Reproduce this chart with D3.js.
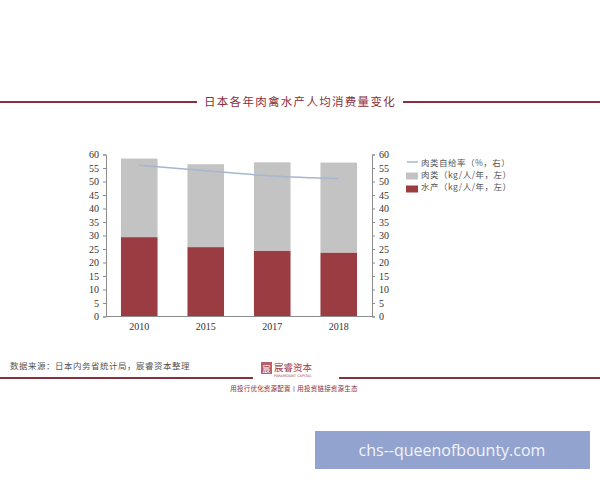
<!DOCTYPE html>
<html><head><meta charset="utf-8">
<script src="https://cdn.jsdelivr.net/npm/d3@7"></script>
<style>body{margin:0;background:#fff;}svg{display:block;}</style>
</head><body>
<svg id="c" width="600" height="480"></svg>
<script>
const years = ["2010","2015","2017","2018"];
const fish = [29.4, 25.7, 24.4, 23.7];
const meat = [29.1, 30.7, 32.7, 33.3];
const selfSuff = [56, 54, 52, 51];
const leftTicks = [0,5,10,15,20,25,30,35,40,45,50,55,60];
const rightTicks = [0,5,10,15,20,25,30,35,40,45,50,55,60];
const legendLabels = ["肉类自给率（%，右）","肉类（kg/人/年，左）","水产（kg/人/年，左）"];

const svg = d3.select("#c");
const serif = "'Liberation Serif','Times New Roman',serif";
const cjk = "'Noto Sans CJK SC',sans-serif";
const dark = "#8a2f3c";

// header
svg.append("line").attr("x1",0).attr("x2",197).attr("y1",102).attr("y2",102).attr("stroke",dark).attr("stroke-width",2);
svg.append("line").attr("x1",403).attr("x2",600).attr("y1",102).attr("y2",102).attr("stroke",dark).attr("stroke-width",2);
svg.append("text").attr("x",300).attr("y",106).attr("text-anchor","middle").attr("font-family",cjk)
  .attr("font-size",11.5).attr("fill",dark).attr("letter-spacing",1.3).text("日本各年肉禽水产人均消费量变化");

const x = d3.scaleBand().domain(years).range([106,372]).paddingInner(0.45).paddingOuter(0.225);
const yL = d3.scaleLinear().domain([0,60]).range([316.5,154.5]);
const yR = d3.scaleLinear().domain([0,60]).range([316.5,154.5]);

// bars
const g = svg.append("g");
g.selectAll(".fish").data(years).join("rect")
  .attr("x",d=>x(d)).attr("width",x.bandwidth())
  .attr("y",(d,i)=>yL(fish[i])).attr("height",(d,i)=>yL(0)-yL(fish[i])).attr("fill","#9b3b42");
g.selectAll(".meat").data(years).join("rect")
  .attr("x",d=>x(d)).attr("width",x.bandwidth())
  .attr("y",(d,i)=>yL(fish[i]+meat[i])).attr("height",(d,i)=>yL(fish[i])-yL(fish[i]+meat[i])).attr("fill","#c3c3c3");

// line
const line = d3.line().x((d,i)=>x(years[i])+x.bandwidth()/2).y(d=>yR(d)).curve(d3.curveMonotoneX);
svg.append("path").datum(selfSuff).attr("d",line).attr("fill","none").attr("stroke","#a7b6cf").attr("stroke-width",1.5);

// axes
const axL = svg.append("g").attr("transform","translate(106,0)").call(d3.axisLeft(yL).tickValues(leftTicks).tickSize(3).tickPadding(4));
const axR = svg.append("g").attr("transform","translate(372,0)").call(d3.axisRight(yR).tickValues(rightTicks).tickSize(3).tickPadding(4));
const axB = svg.append("g").attr("transform","translate(0,316.5)").call(d3.axisBottom(x).tickSize(0).tickPadding(6).tickSizeOuter(0));
[axL,axR,axB].forEach(a=>{
  a.selectAll("path,line").attr("stroke","#8c8c8c");
  a.selectAll("text").attr("font-family",serif).attr("font-size",10).attr("fill","#333");
});
axB.select(".domain").attr("d","M106,0H372");

// legend
const lg = svg.append("g");
lg.append("line").attr("x1",407).attr("x2",418).attr("y1",162).attr("y2",162).attr("stroke","#a7b6cf").attr("stroke-width",1.5);
lg.append("rect").attr("x",406).attr("y",172.5).attr("width",12).attr("height",7).attr("fill","#c3c3c3");
lg.append("rect").attr("x",406).attr("y",185.5).attr("width",12).attr("height",7).attr("fill","#9b3b42");
lg.selectAll("text").data(legendLabels).join("text")
  .attr("x",421).attr("y",(d,i)=>165.5+i*12).attr("font-family",cjk).attr("font-size",8.5)
  .attr("letter-spacing",0.5).attr("fill","#555").text(d=>d);

// footer
svg.append("text").attr("x",10).attr("y",369).attr("font-family",cjk).attr("font-size",8.5).attr("letter-spacing",0.5).attr("fill","#555").text("数据来源：日本内务省统计局，宸睿资本整理");
svg.append("line").attr("x1",0).attr("x2",253).attr("y1",378).attr("y2",378).attr("stroke",dark).attr("stroke-width",2);
svg.append("line").attr("x1",339).attr("x2",600).attr("y1",378).attr("y2",378).attr("stroke",dark).attr("stroke-width",2);
svg.append("rect").attr("x",261).attr("y",362).attr("width",11).attr("height",12).attr("fill","#b5606b");
svg.append("text").attr("x",266.5).attr("y",371.5).attr("text-anchor","middle").attr("font-family",cjk).attr("font-size",8).attr("fill","#fff").text("宸");
svg.append("text").attr("x",274).attr("y",371).attr("font-family",cjk).attr("font-size",9.5).attr("fill","#a0404d").text("宸睿资本");
svg.append("text").attr("x",274).attr("y",376.5).attr("font-family","'DejaVu Sans',sans-serif").attr("font-size",3.5).attr("fill","#a0404d").text("PARAMOUNT CAPITAL");
svg.append("text").attr("x",294).attr("y",391).attr("text-anchor","middle").attr("font-family",cjk).attr("font-size",6.5).attr("letter-spacing",0.2).attr("fill","#8a2f3c").text("用投行优化资源配置丨用投资链接资源生态");

// watermark
svg.append("rect").attr("x",315).attr("y",431).attr("width",275).attr("height",38).attr("fill","#93a3cf");
svg.append("text").attr("x",452).attr("y",456).attr("text-anchor","middle").attr("font-family","'Open Sans','DejaVu Sans',sans-serif").attr("font-size",16).attr("fill","#f2f4fa").text("chs--queenofbounty.com");
</script>
</body></html>
